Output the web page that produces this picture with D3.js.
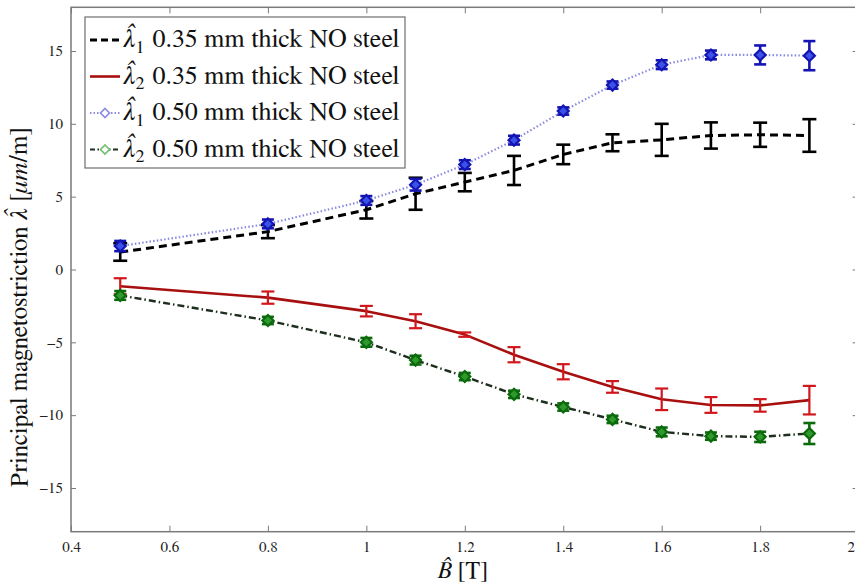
<!DOCTYPE html>
<html><head><meta charset="utf-8">
<script src="https://cdn.jsdelivr.net/npm/d3@7"></script>
<style>
html,body{margin:0;padding:0;background:#fff;}
svg{display:block;}
</style></head>
<body>
<svg id="chart" width="855" height="585"></svg>
<script>
const B = [0.5, 0.8, 1.0, 1.1, 1.2, 1.3, 1.4, 1.5, 1.6, 1.7, 1.8, 1.9];
const lam1_035 = [1.2, 2.6, 4.1, 5.2, 6.0, 6.8, 7.9, 8.7, 8.9, 9.2, 9.25, 9.2];
const err1_035 = [0.6, 0.45, 0.6, 1.1, 0.63, 1.0, 0.67, 0.58, 1.1, 0.9, 0.83, 1.12];
const lam2_035 = [-1.15, -1.93, -2.86, -3.55, -4.47, -5.85, -7.02, -8.06, -8.91, -9.3, -9.33, -8.97];
const err2_035 = [0.55, 0.42, 0.36, 0.48, 0.15, 0.52, 0.52, 0.4, 0.74, 0.54, 0.43, 0.98];
const lam1_050 = [1.61, 3.13, 4.74, 5.82, 7.2, 8.88, 10.88, 12.66, 14.06, 14.73, 14.73, 14.68];
const err1_050 = [0.35, 0.3, 0.3, 0.4, 0.3, 0.3, 0.25, 0.25, 0.3, 0.3, 0.65, 1.0];
const lam2_050 = [-1.78, -3.5, -5.0, -6.22, -7.35, -8.57, -9.44, -10.29, -11.15, -11.44, -11.49, -11.26];
const err2_050 = [0.3, 0.25, 0.3, 0.3, 0.25, 0.25, 0.25, 0.25, 0.3, 0.25, 0.35, 0.72];
const xTicks = [0.4, 0.6, 0.8, 1, 1.2, 1.4, 1.6, 1.8, 2];
const yTicks = [-15, -10, -5, 0, 5, 10, 15];
const legendLabels = ["0.35 mm thick NO steel", "0.35 mm thick NO steel", "0.50 mm thick NO steel", "0.50 mm thick NO steel"];
const legendSubs = ["1", "2", "1", "2"];

const FONT = '"FreeSerif"';
const svg = d3.select("#chart");
const x = d3.scaleLinear().domain([0.4, 2.0]).range([71, 858.6]);
const y = d3.scaleLinear().domain([-18, 18]).range([531.7, 7.3]);

const frameColor = "#7a7a7a";
svg.append("rect").attr("x", x(0.4)).attr("y", y(18))
  .attr("width", x(2.0) - x(0.4)).attr("height", y(-18) - y(18))
  .attr("fill", "none").attr("stroke", frameColor).attr("stroke-width", 1.5);

const xAxisB = svg.append("g").attr("transform", `translate(0,${y(-18)})`)
  .call(d3.axisBottom(x).tickValues(xTicks).tickFormat(d3.format("~g")).tickSizeInner(-6).tickSizeOuter(0).tickPadding(10));
const xAxisT = svg.append("g").attr("transform", `translate(0,${y(18)})`)
  .call(d3.axisTop(x).tickValues(xTicks).tickFormat("").tickSizeInner(-6).tickSizeOuter(0));
const yAxisL = svg.append("g").attr("transform", `translate(${x(0.4)},0)`)
  .call(d3.axisLeft(y).tickValues(yTicks).tickFormat(d => d < 0 ? "\u2212" + Math.abs(d) : d).tickSizeInner(-5).tickSizeOuter(0).tickPadding(8));
const yAxisR = svg.append("g").attr("transform", `translate(${x(2.0)},0)`)
  .call(d3.axisRight(y).tickValues(yTicks).tickFormat("").tickSizeInner(-6).tickSizeOuter(0));
[xAxisB, xAxisT, yAxisL, yAxisR].forEach(g => {
  g.attr("font-family", null);
  g.select(".domain").remove();
  g.selectAll(".tick line").attr("stroke", frameColor).attr("stroke-width", 1);
  g.selectAll(".tick text").attr("fill", "#222").attr("font-size", 15).style("font-family", FONT);
});
// keep the last x tick label ("2") inside the picture
xAxisB.selectAll(".tick text").filter(d => d === 2).attr("text-anchor", "end").attr("dx", -4);

// x label
const xl = svg.append("text").attr("x", (x(0.4) + x(2.0)) / 2 - 2).attr("y", 578)
  .attr("text-anchor", "middle").attr("font-size", 24).attr("fill", "#111").style("font-family", FONT);
xl.append("tspan").style("font-style", "italic").text("B\u0302");
xl.append("tspan").text(" [T]");

// y label, fitted to the reference length
function buildYLabel(size) {
  const yl = svg.append("text").attr("transform", "translate(27,307) rotate(-90)")
    .attr("text-anchor", "middle").attr("font-size", size).attr("fill", "#111").style("font-family", FONT);
  yl.append("tspan").text("Principal magnetostriction ");
  yl.append("tspan").style("font-style", "italic").text("\u03BB\u0302");
  yl.append("tspan").text(" [");
  yl.append("tspan").style("font-style", "italic").text("\u03BCm");
  yl.append("tspan").text("/m]");
  return yl;
}
let yl = buildYLabel(22);
const ylW = yl.node().getBBox().width;
yl.remove();
yl = buildYLabel(22 * 360 / ylW);

const series = [
  {vals: lam1_035, errs: err1_035, line: "#000", lw: 3, dash: "8,5", bar: "#000", barW: 2.6, cap: 7, marker: false},
  {vals: lam2_035, errs: err2_035, line: "#a80f0f", lw: 2.6, dash: null, bar: "#d0181c", barW: 2.2, cap: 6.5, marker: false},
  {vals: lam1_050, errs: err1_050, line: "#8a8ae0", lw: 2.2, dash: "1.5,2.2", bar: "#1414b4", barW: 2.6, cap: 6, marker: true, mFill: "#3a52e6", mStroke: "#1414b4"},
  {vals: lam2_050, errs: err2_050, line: "#1e2e1e", lw: 2.4, dash: "7,3,1.5,3", bar: "#0b6a0b", barW: 2.6, cap: 6, marker: true, mFill: "#2e9a2e", mStroke: "#0b6a0b"}
];

const lineGen = d3.line().x(d => x(d[0])).y(d => y(d[1]));
const diamond = (cx, cy, r) => `M${cx},${cy - r}L${cx + r},${cy}L${cx},${cy + r}L${cx - r},${cy}Z`;

series.forEach(s => {
  const pts = B.map((b, i) => [b, s.vals[i], s.errs[i]]);
  const g = svg.append("g");
  g.append("path").datum(pts).attr("d", lineGen).attr("fill", "none")
    .attr("stroke", s.line).attr("stroke-width", s.lw)
    .attr("stroke-dasharray", s.dash).attr("stroke-linejoin", "round");
  const eb = g.selectAll(".eb").data(pts).join("g");
  eb.append("line").attr("x1", d => x(d[0])).attr("x2", d => x(d[0]))
    .attr("y1", d => y(d[1] + d[2])).attr("y2", d => y(d[1] - d[2]))
    .attr("stroke", s.bar).attr("stroke-width", s.barW);
  [1, -1].forEach(sg => {
    eb.append("line").attr("x1", d => x(d[0]) - s.cap).attr("x2", d => x(d[0]) + s.cap)
      .attr("y1", d => y(d[1] + sg * d[2])).attr("y2", d => y(d[1] + sg * d[2]))
      .attr("stroke", s.bar).attr("stroke-width", s.barW);
  });
  if (s.marker) {
    eb.append("path").attr("d", d => diamond(x(d[0]), y(d[1]), 5.5))
      .attr("fill", s.mFill).attr("stroke", s.mStroke).attr("stroke-width", 2.2);
  }
});

// legend
const lg = svg.append("g");
lg.append("rect").attr("x", 85).attr("y", 17).attr("width", 320).attr("height", 151)
  .attr("fill", "#fff").attr("stroke", "#6e6e6e").attr("stroke-width", 1.2);
const legY = [40, 76.5, 113, 149.5];
const legStyles = [
  {stroke: "#000", w: 3, dash: "7,4"},
  {stroke: "#a80f0f", w: 2.6, dash: null},
  {stroke: "#8a8ae0", w: 2, dash: "1.5,2", mStroke: "#8a8ae8"},
  {stroke: "#1e2e1e", w: 2, dash: "5,2.5,1.5,2.5", mStroke: "#6fbf6f"}
];
function buildLegText(i, size) {
  const cy = legY[i];
  const t = lg.append("text").attr("x", 123).attr("y", cy + 7).attr("font-size", size).attr("fill", "#111").style("font-family", FONT);
  t.append("tspan").style("font-style", "italic").text("\u03BB\u0302");
  t.append("tspan").attr("font-size", size * 0.7).attr("dy", size * 0.22).text(legendSubs[i]);
  t.append("tspan").attr("dy", -size * 0.22).attr("dx", size * 0.3).text(legendLabels[i]);
  return t;
}
legStyles.forEach((st, i) => {
  const cy = legY[i];
  lg.append("line").attr("x1", 90).attr("x2", 120).attr("y1", cy).attr("y2", cy)
    .attr("stroke", st.stroke).attr("stroke-width", st.w).attr("stroke-dasharray", st.dash);
  if (st.mStroke) {
    lg.append("path").attr("d", diamond(105, cy, 4.5)).attr("fill", "#fff")
      .attr("stroke", st.mStroke).attr("stroke-width", 1.6);
  }
  let t = buildLegText(i, 21);
  const bw = t.node().getBBox().width;
  t.remove();
  buildLegText(i, 21 * (400 - 123) / bw);
});
</script>
</body></html>
